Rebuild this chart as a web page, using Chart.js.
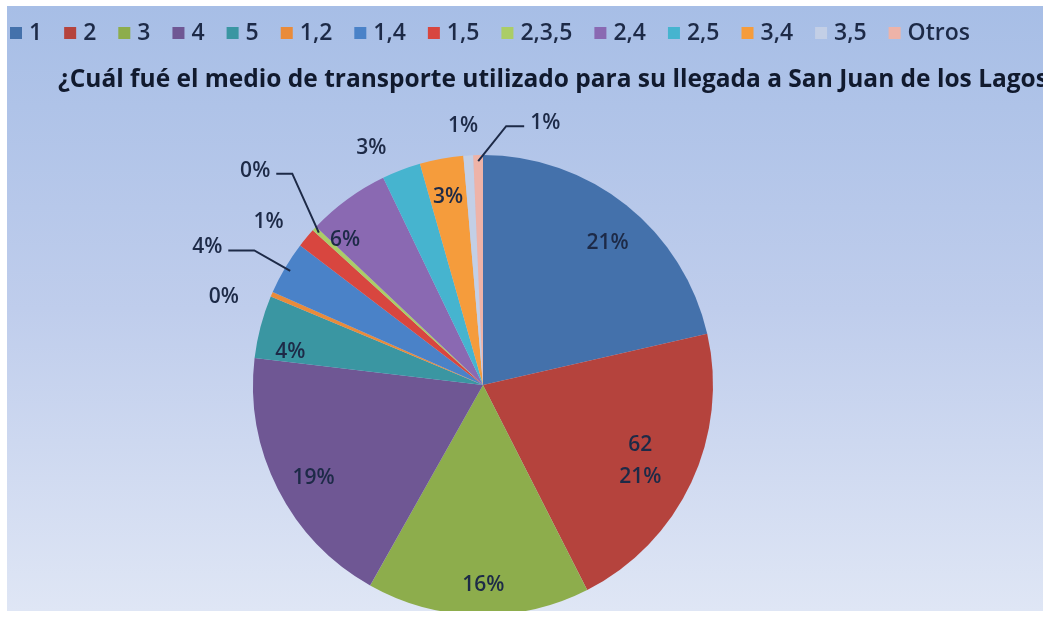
<!DOCTYPE html>
<html>
<head>
<meta charset="utf-8">
<script src="https://cdn.jsdelivr.net/npm/chart.js@4"></script>
<style>
  html, body { margin: 0; padding: 0; background: #ffffff; }
  #wrap {
    position: absolute; left: 7px; top: 6px; width: 1036px; height: 605px;
    overflow: hidden;
    background: linear-gradient(#a7bee6 0%, #bfcdec 50%, #dfe6f5 100%);
  }
  #chart { position: absolute; left: 0; top: 0; }
</style>
</head>
<body>
<div id="wrap"><canvas id="chart" width="1036" height="640"></canvas></div>
<script>
// datos
const categories = ['1', '2', '3', '4', '5', '1,2', '1,4', '1,5', '2,3,5', '2,4', '2,5', '3,4', '3,5', 'Otros'];
const respuestas = [63, 62, 46, 55, 13, 1, 11, 4, 1, 17, 8, 9, 2, 2];
const colores = ['#4471ab', '#b5433d', '#8dad4c', '#6f5794', '#3a96a2', '#e98b3a', '#4a82c8',
                 '#d8463f', '#abcd66', '#8a69b2', '#46b4cf', '#f59c3c', '#c3cfe6', '#eeb3a8'];
const titulo = '¿Cuál fué el medio de transporte utilizado para su llegada a San Juan de los Lagos';

// posición de cada etiqueta: r = fracción del radio, da = giro en grados, leader = línea guía
const etiquetas = [
    { r: 0.82, da: 2.8 },
    { r: 0.76, da: 0.7, valor: true },
    { r: 0.87, da: -1.3 },
    { r: 0.84, da: -1.8 },
    { r: 0.85, da: -5 },
    { r: 1.19, da: -4.5 },
    { r: 1.34, da: -4.1, leader: { side: 1, len: 26 } },
    { r: 1.17, da: -2.6 },
    { r: 1.36, da: 0.4, leader: { side: 1, len: 16 } },
    { r: 0.87, da: -7.5 },
    { r: 1.14, da: -4.4 },
    { r: 0.83, da: -0.1 },
    { r: 1.13, da: -0.7 },
    { r: 1.17, da: 14.6, leader: { side: -1, len: 18 } }
];

const textColor = '#1d2a47';

const encabezado = {
    id: 'encabezado',
    afterDraw(chart) {
        const ctx = chart.ctx;
        ctx.save();
        // leyenda
        ctx.font = '600 23px "Open Sans"';
        ctx.textBaseline = 'middle';
        ctx.textAlign = 'left';
        let x = 3;
        categories.forEach((c, i) => {
            ctx.fillStyle = colores[i];
            ctx.fillRect(x, 21, 12, 12);
            ctx.fillStyle = textColor;
            ctx.fillText(c, x + 19, 27);
            x += 19 + ctx.measureText(c).width + 22;
        });
        // título
        ctx.font = 'bold 24.5px "Open Sans"';
        ctx.fillStyle = '#111a2e';
        ctx.fillText(titulo, 51, 74);
        ctx.restore();
    }
};

const porcentajes = {
    id: 'porcentajes',
    afterDatasetsDraw(chart) {
        const ctx = chart.ctx;
        const meta = chart.getDatasetMeta(0);
        const total = respuestas.reduce((a, b) => a + b, 0);
        ctx.save();
        ctx.font = '600 21px "Open Sans"';
        ctx.textAlign = 'center';
        ctx.textBaseline = 'middle';
        ctx.fillStyle = textColor;
        ctx.strokeStyle = textColor;
        ctx.lineWidth = 2;
        meta.data.forEach((arc, i) => {
            const e = etiquetas[i];
            const { x, y, startAngle, endAngle, outerRadius } = arc.getProps(['x', 'y', 'startAngle', 'endAngle', 'outerRadius'], true);
            const mid = (startAngle + endAngle) / 2;
            const a = mid + e.da * Math.PI / 180;
            const tx = x + Math.cos(a) * outerRadius * e.r;
            const ty = y + Math.sin(a) * outerRadius * e.r;
            const pct = Math.round(respuestas[i] / total * 100) + '%';
            if (e.valor) {
                ctx.fillText(String(respuestas[i]), tx, ty - 16);
                ctx.fillText(pct, tx, ty + 16);
            } else {
                ctx.fillText(pct, tx, ty);
            }
            if (e.leader) {
                const w = ctx.measureText(pct).width;
                const sx = tx + e.leader.side * (w / 2 + 6);
                const sy = ty + 3;
                const ex = sx + e.leader.side * e.leader.len;
                const px = x + Math.cos(mid) * (outerRadius - 6);
                const py = y + Math.sin(mid) * (outerRadius - 6);
                ctx.beginPath();
                ctx.moveTo(sx, sy);
                ctx.lineTo(ex, sy);
                ctx.lineTo(px, py);
                ctx.stroke();
            }
        });
        ctx.restore();
    }
};

new Chart(document.getElementById('chart'), {
    type: 'pie',
    data: {
        labels: categories,
        datasets: [{
            data: respuestas,
            backgroundColor: colores,
            borderWidth: 0,
            hoverOffset: 0,
            radius: 230
        }]
    },
    options: {
        responsive: false,
        animation: false,
        layout: { padding: { left: 246, right: 330, top: 149, bottom: 31 } },
        plugins: {
            legend: { display: false },
            title: { display: false },
            tooltip: { enabled: false }
        }
    },
    plugins: [encabezado, porcentajes]
});
</script>
</body>
</html>
